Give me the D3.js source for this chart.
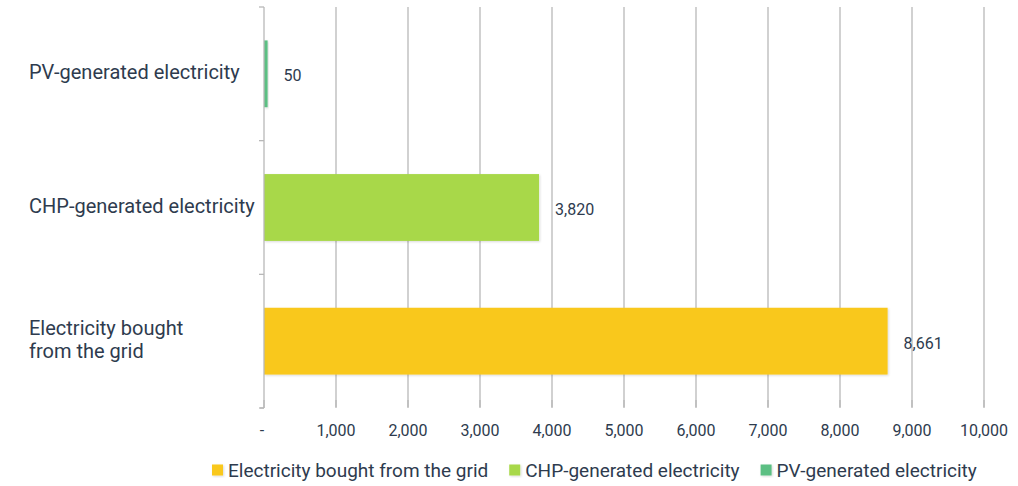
<!DOCTYPE html>
<html>
<head>
<meta charset="utf-8">
<script src="https://cdn.jsdelivr.net/npm/d3@7"></script>
<style>
  body { margin: 0; background: #fff; }
  svg { display: block; font-family: Roboto, "Noto Sans", sans-serif; }
</style>
</head>
<body>
<div class="chart"></div>
<script>
// data
var categories = ["PV-generated electricity", "CHP-generated electricity", "Electricity bought from the grid"];
var categoryLines = [["PV-generated electricity"], ["CHP-generated electricity"], ["Electricity bought", "from the grid"]];
var values = [50, 3820, 8661];
var colors = ["#5cbf83", "#a8d848", "#f9c81a"];
var tickValues = [0, 1000, 2000, 3000, 4000, 5000, 6000, 7000, 8000, 9000, 10000];
var legendOrder = [2, 1, 0];

var width = 1018, height = 486;
var textColor = "#2e3b4e";
var gridColor = "#b8b8b8";

var svg = d3.select(".chart").append("svg")
  .attr("width", width)
  .attr("height", height);

var defs = svg.append("defs");
var shadow = defs.append("filter").attr("id", "shadow")
  .attr("x", "-10%").attr("y", "-10%").attr("width", "130%").attr("height", "130%");
shadow.append("feDropShadow")
  .attr("dx", 1).attr("dy", 1).attr("stdDeviation", 1)
  .attr("flood-color", "#000").attr("flood-opacity", 0.15);

var x = d3.scaleLinear().domain([0, 10000]).range([264, 984]);
var y = d3.scaleBand().domain(categories).range([7, 408])
  .paddingInner(0.5).paddingOuter(0.25);

// vertical gridlines
svg.append("g").selectAll("line")
  .data(tickValues.slice(1))
  .enter().append("line")
  .attr("x1", function(d) { return x(d); })
  .attr("x2", function(d) { return x(d); })
  .attr("y1", 7)
  .attr("y2", 407)
  .attr("stroke", gridColor)
  .attr("stroke-width", 1.3);

// bars
svg.append("g").selectAll("rect")
  .data(categories)
  .enter().append("rect")
  .attr("x", x(0))
  .attr("y", function(d) { return y(d); })
  .attr("width", function(d, i) { return x(values[i]) - x(0); })
  .attr("height", y.bandwidth())
  .attr("fill", function(d, i) { return colors[i]; })
  .attr("filter", "url(#shadow)");

// category axis line and boundary ticks
var boundaries = [y.range()[0]].concat(categories.map(function(d) { return y(d) + y.bandwidth() + y.step() * y.paddingInner() / 2; }));
boundaries[boundaries.length - 1] = y.range()[1];
var yAxis = svg.append("g");
yAxis.append("line")
  .attr("x1", x(0)).attr("x2", x(0))
  .attr("y1", y.range()[0]).attr("y2", y.range()[1])
  .attr("stroke", gridColor).attr("stroke-width", 1.3);
yAxis.selectAll(".tick")
  .data(boundaries)
  .enter().append("line")
  .attr("x1", x(0) - 5).attr("x2", x(0))
  .attr("y1", function(d) { return d; })
  .attr("y2", function(d) { return d; })
  .attr("stroke", gridColor).attr("stroke-width", 1.3);

// category labels
var labels = svg.append("g").selectAll("text")
  .data(categories)
  .enter().append("text")
  .attr("x", 29)
  .attr("fill", textColor)
  .style("font-size", "20px")
  .attr("y", function(d, i) {
    var n = categoryLines[i].length;
    return y(d) + y.bandwidth() / 2 - (n - 1) * 23 / 2 - 2;
  })
  .attr("dominant-baseline", "central");
labels.each(function(d, i) {
  var t = d3.select(this);
  categoryLines[i].forEach(function(line, j) {
    t.append("tspan").attr("x", 29).attr("dy", j === 0 ? 0 : 23).text(line);
  });
});

// value labels
var fmt = d3.format(",");
svg.append("g").selectAll("text")
  .data(categories)
  .enter().append("text")
  .attr("x", function(d, i) { return x(values[i]) + 16; })
  .attr("y", function(d) { return y(d) + y.bandwidth() / 2 + 2; })
  .attr("dominant-baseline", "central")
  .attr("fill", textColor)
  .style("font-size", "16px")
  .text(function(d, i) { return fmt(values[i]); });

// x axis ticks and labels
var xAxis = svg.append("g");
xAxis.selectAll("line")
  .data(tickValues)
  .enter().append("line")
  .attr("x1", function(d) { return x(d); })
  .attr("x2", function(d) { return x(d); })
  .attr("y1", 400).attr("y2", 408)
  .attr("stroke", gridColor).attr("stroke-width", 1.3);
xAxis.append("line")
  .attr("x1", x(0) - 4).attr("x2", x(0))
  .attr("y1", 408).attr("y2", 408)
  .attr("stroke", gridColor).attr("stroke-width", 1.3);
xAxis.selectAll("text")
  .data(tickValues)
  .enter().append("text")
  .attr("x", function(d) { return d === 0 ? x(d) - 2 : x(d); })
  .attr("y", 430)
  .attr("dominant-baseline", "central")
  .attr("text-anchor", "middle")
  .attr("fill", textColor)
  .style("font-size", "16px")
  .text(function(d) { return d === 0 ? "-" : fmt(d); });

// legend
var legend = svg.append("g").attr("transform", "translate(212,470)");
var lx = 0;
legendOrder.forEach(function(i) {
  var item = legend.append("g").attr("transform", "translate(" + lx + ",0)");
  item.append("rect")
    .attr("x", 0).attr("y", -5.5)
    .attr("width", 11).attr("height", 11)
    .attr("fill", colors[i])
    .attr("filter", "url(#shadow)");
  var t = item.append("text")
    .attr("x", 16)
    .attr("y", 0)
    .attr("dominant-baseline", "central")
    .attr("fill", textColor)
    .style("font-size", "19px")
    .text(categories[i]);
  lx += 16 + t.node().getComputedTextLength() + 21;
});
</script>
</body>
</html>
